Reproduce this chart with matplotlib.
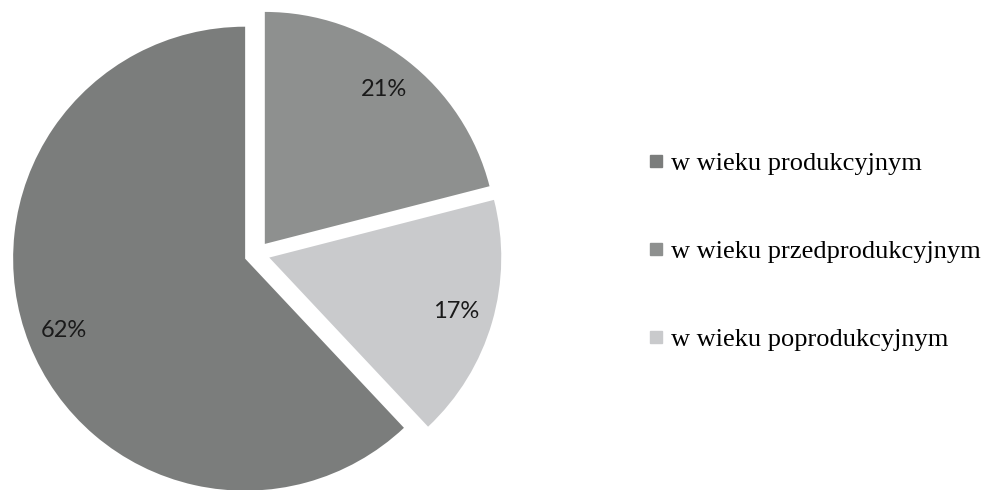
import matplotlib.pyplot as plt
from matplotlib.lines import Line2D

# legend order
labels = ["w wieku produkcyjnym", "w wieku przedprodukcyjnym", "w wieku poprodukcyjnym"]
values = [62, 21, 17]
colors = ["#7b7d7c", "#8e908f", "#c9cacc"]

# drawing order clockwise from the top
order = [1, 2, 0]

fig = plt.figure(figsize=(9.85, 4.9), dpi=100)
W, H = 985, 490
cx, cy, R = 257, 236, 232
lim = 1.1
side = 2 * R * lim
ax = fig.add_axes([(cx - side / 2) / W, (cy - side / 2) / H, side / W, side / H])

wedges, texts = ax.pie([values[i] for i in order],
                       colors=[colors[i] for i in order],
                       startangle=90, counterclock=False,
                       explode=[0.055] * 3,
                       labels=[f"{values[i]}%" for i in order],
                       labeldistance=0.84,
                       textprops=dict(fontsize=17, family="Lato", color="#1a1a1a",
                                      ha="center", va="center"),
                       wedgeprops=dict(linewidth=0))
for t in texts:
    t.set_ha("center")
ax.set_xlim(-lim, lim)
ax.set_ylim(-lim, lim)
ax.set_aspect("equal")
ax.axis("off")

handles = [Line2D([], [], marker="s", linestyle="none", markersize=8,
                  markerfacecolor=c, markeredgecolor=c) for c in colors]
fig.legend(handles, labels, loc="center left", bbox_to_anchor=(626 / W, 0.487),
           frameon=False, prop=dict(family="Liberation Serif", size=19),
           handlelength=0.5, handletextpad=0.3, labelspacing=2.45)

fig.savefig("out.png", dpi=100)
